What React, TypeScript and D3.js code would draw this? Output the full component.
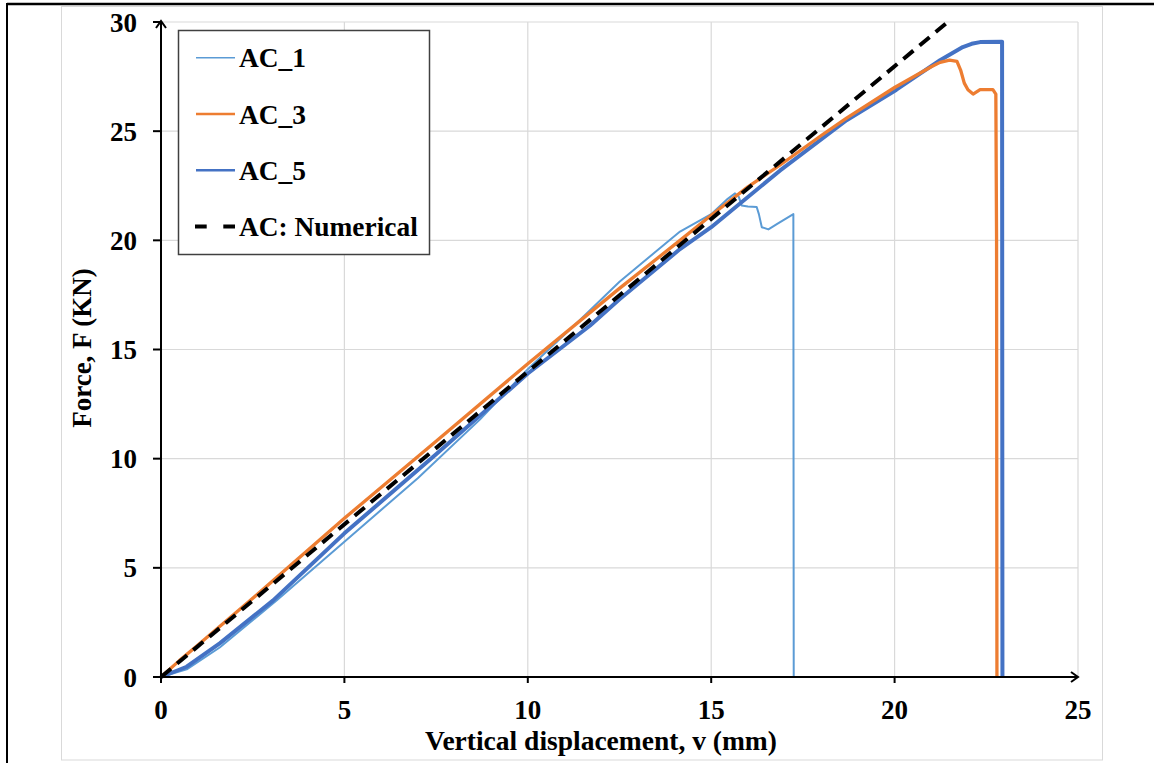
import React from "react";
import * as d3 from "d3";

type P = [number, number];

const xTicks = [0, 5, 10, 15, 20, 25];
const yTicks = [0, 5, 10, 15, 20, 25, 30];

const ac1: P[] = [
  [0, 0], [0.7, 0.35], [1.6, 1.35], [3.15, 3.5], [5, 6.2], [7, 9.1], [8.7, 11.8],
  [10, 14.1], [11.42, 16.35], [12.5, 18.1], [13.5, 19.5], [14.15, 20.4], [15, 21.2],
  [15.45, 21.9], [15.65, 22.15], [15.75, 22.0], [15.83, 21.6], [16.0, 21.55], [16.24, 21.53],
  [16.3, 21.2], [16.38, 20.6], [16.56, 20.5], [16.8, 20.75], [17.24, 21.2], [17.25, 0],
];

const ac3: P[] = [
  [0, 0], [0.5, 0.75], [1, 1.45], [2.43, 3.5], [5, 7.27], [7.5, 10.8], [10, 14.35],
  [12.5, 17.8], [14.15, 20.0], [15, 21.15], [16, 22.45], [16.88, 23.45], [18, 24.8],
  [18.69, 25.6], [20, 27.0], [21.0, 27.95], [21.24, 28.15], [21.5, 28.25], [21.7, 28.2],
  [21.8, 27.8], [21.9, 27.2], [22.0, 26.9], [22.14, 26.7], [22.33, 26.9], [22.68, 26.9],
  [22.76, 26.7], [22.78, 20], [22.79, 0],
];

const ac5: P[] = [
  [0, 0], [0.7, 0.47], [1.61, 1.55], [3.05, 3.5], [5, 6.58], [7.5, 10.2], [10, 13.9],
  [11.7, 16.1], [12.5, 17.3], [14.15, 19.6], [15, 20.6], [16.88, 23.2], [18.69, 25.5],
  [20.05, 26.9], [21.24, 28.25], [21.86, 28.85], [22.1, 29.0], [22.33, 29.08], [22.93, 29.1],
  [22.94, 0],
];

const numerical: P[] = [
  [0, 0], [21.45, 30],
];

const legendItems = [
  { label: "AC_1", color: "#5B9BD5", width: 1.5, dash: "" },
  { label: "AC_3", color: "#ED7D31", width: 2.5, dash: "" },
  { label: "AC_5", color: "#4472C4", width: 2.5, dash: "" },
  { label: "AC: Numerical", color: "#000000", width: 4, dash: "11.7 16.6" },
];

export default function App() {
  const W = 1154;
  const H = 763;
  const x = d3.scaleLinear().domain([0, 25]).range([161, 1078]);
  const y = d3.scaleLinear().domain([0, 30]).range([677, 22]);
  const line = d3.line<P>().x((d) => x(d[0])).y((d) => y(d[1]));
  const font = "'Liberation Serif', 'Times New Roman', serif";
  const grid = "#d9d9d9";

  const x0 = x(0), x1 = x(25), y0 = y(0), y1 = y(30);

  return (
    <svg width={W} height={H} style={{ position: "absolute", left: 0, top: 0, background: "#fff" }}
      fontFamily={font} fontWeight="bold">
      <rect x={0} y={0} width={W} height={H} fill="#fff" />
      {/* outer frame */}
      <rect x={61.5} y={6.5} width={1041} height={753.5} fill="none" stroke={grid} strokeWidth={1} />
      <line x1={7} y1={4} x2={W} y2={4} stroke="#000" strokeWidth={2.5} />
      <line x1={7} y1={3} x2={7} y2={H} stroke="#000" strokeWidth={2} />

      {/* gridlines */}
      {xTicks.map((t) => (
        <line key={"gx" + t} x1={x(t)} x2={x(t)} y1={y0} y2={y1} stroke={grid} strokeWidth={1.2} />
      ))}
      {yTicks.map((t) => (
        <line key={"gy" + t} x1={x0} x2={x1} y1={y(t)} y2={y(t)} stroke={grid} strokeWidth={1.2} />
      ))}

      {/* series */}
      <path d={line(ac1) || ""} fill="none" stroke="#5B9BD5" strokeWidth={2} strokeLinejoin="round" />
      <path d={line(ac5) || ""} fill="none" stroke="#4472C4" strokeWidth={4} strokeLinejoin="round" />
      <path d={line(ac3) || ""} fill="none" stroke="#ED7D31" strokeWidth={3.3} strokeLinejoin="round" />
      <path d={line(numerical) || ""} fill="none" stroke="#000" strokeWidth={4} strokeDasharray="13 8" />

      {/* axes */}
      <line x1={x0} y1={y0} x2={x1} y2={y0} stroke="#000" strokeWidth={2} />
      <line x1={x0} y1={y0} x2={x0} y2={y1 - 1} stroke="#000" strokeWidth={2} />
      <path d={`M${x1 - 7},${y0 - 5} L${x1},${y0} L${x1 - 7},${y0 + 5}`} fill="none" stroke="#000" strokeWidth={2} />
      <path d={`M${x0 - 5},${y1 + 6} L${x0},${y1 - 1} L${x0 + 5},${y1 + 6}`} fill="none" stroke="#000" strokeWidth={2} />
      {xTicks.slice(0, -1).map((t) => (
        <line key={"tx" + t} x1={x(t)} x2={x(t)} y1={y0} y2={y0 + 6} stroke="#000" strokeWidth={2} />
      ))}
      {yTicks.map((t) => (
        <line key={"ty" + t} x1={x0 - 8} x2={x0} y1={y(t)} y2={y(t)} stroke="#000" strokeWidth={2} />
      ))}

      {/* tick labels */}
      {xTicks.map((t) => (
        <text key={"lx" + t} x={x(t)} y={719} textAnchor="middle" fontSize={27} fill="#000">{t}</text>
      ))}
      {yTicks.map((t) => (
        <text key={"ly" + t} x={137} y={y(t) + 9.5} textAnchor="end" fontSize={27} fill="#000">{t}</text>
      ))}

      {/* axis titles */}
      <text x={601} y={750} textAnchor="middle" fontSize={27.5} fill="#000">Vertical displacement, v (mm)</text>
      <text transform={`translate(91,348) rotate(-90)`} textAnchor="middle" fontSize={27} fill="#000">Force, F (KN)</text>

      {/* legend */}
      <rect x={178.5} y={30.5} width={251} height={224} fill="#fff" stroke="#404040" strokeWidth={1.5} />
      {legendItems.map((it, i) => {
        const ly = 57.7 + i * 56.3;
        return (
          <g key={it.label}>
            <line x1={it.dash ? 195 : 196} x2={235} y1={ly} y2={ly} stroke={it.color} strokeWidth={it.width}
              strokeDasharray={it.dash || undefined} />
            <text x={239} y={ly + 9.5} fontSize={27.4} fill="#000">{it.label}</text>
          </g>
        );
      })}
    </svg>
  );
}
